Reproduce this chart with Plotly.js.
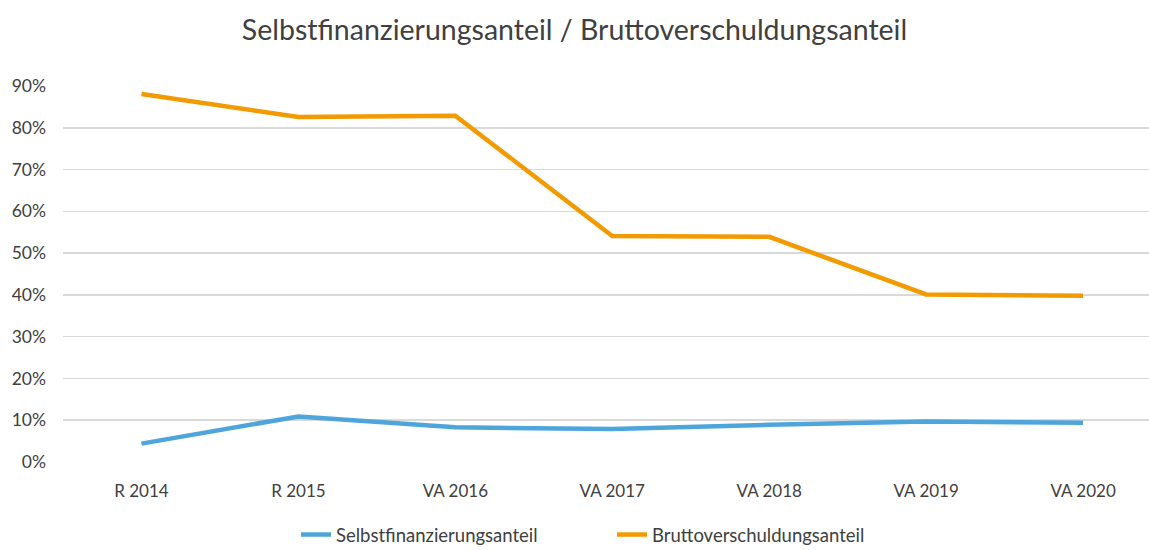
<!DOCTYPE html>
<html>
<head>
<meta charset="utf-8">
<script src="https://cdn.plot.ly/plotly-3.0.1.min.js"></script>
<style>html,body{margin:0;padding:0;background:#fff;}#chart{width:1149px;height:550px;}</style>
</head>
<body>
<div id="chart"></div>
<script>
const categories = ["R 2014", "R 2015", "VA 2016", "VA 2017", "VA 2018", "VA 2019", "VA 2020"];
const selbstfinanzierung = [0.044, 0.109, 0.083, 0.079, 0.089, 0.097, 0.094];
const bruttoverschuldung = [0.881, 0.826, 0.829, 0.541, 0.539, 0.401, 0.398];
const yTicks = [0, 0.1, 0.2, 0.3, 0.4, 0.5, 0.6, 0.7, 0.8, 0.9];
const yTickLabels = ["0%", "10%", "20%", "30%", "40%", "50%", "60%", "70%", "80%", "90%"];

const font = "Lato, 'Open Sans', sans-serif";
const traces = [
  {x: categories.map((c, i) => i), y: selbstfinanzierung, name: "Selbstfinanzierungsanteil", type: "scatter", mode: "lines",
   line: {color: "#4EA5DC", width: 4.5}},
  {x: categories.map((c, i) => i), y: bruttoverschuldung, name: "Bruttoverschuldungsanteil", type: "scatter", mode: "lines",
   line: {color: "#F39A00", width: 4.5}}
];
const layout = {
  width: 1149, height: 550,
  margin: {l: 63, r: 0, t: 86, b: 88},
  paper_bgcolor: "#fff", plot_bgcolor: "#fff",
  font: {family: font, color: "#404040", size: 17},
  title: {text: "Selbstfinanzierungsanteil / Bruttoverschuldungsanteil", x: 0.5, xref: "container", xanchor: "center", y: 0.945, yref: "container", yanchor: "middle",
          font: {family: font, size: 28.5, color: "#404040"}},
  xaxis: {type: "linear", range: [-0.5, 6.42], tickvals: categories.map((c, i) => i), ticktext: categories,
          showgrid: false, zeroline: false, showline: false, ticks: "", ticklabelstandoff: 17, automargin: false,
          tickfont: {family: font, size: 17, color: "#404040"}},
  yaxis: {range: [0, 0.9], tickvals: yTicks, ticktext: yTickLabels, showgrid: true, gridcolor: "#D9D9D9", gridwidth: 1.5,
          zeroline: false, showline: false, ticks: "", ticklabelstandoff: 16, automargin: false,
          tickfont: {family: font, size: 17.5, color: "#404040"}},
  showlegend: true,
  legend: {orientation: "h", xref: "container", x: 296/1149, xanchor: "left", yref: "container", y: 1 - 535/550, yanchor: "middle",
           font: {family: font, size: 18.5, color: "#404040"}, entrywidth: 271, entrywidthmode: "pixels", tracegroupgap: 0},
};
Plotly.newPlot("chart", traces, layout, {displayModeBar: false, staticPlot: true});
</script>
</body>
</html>
